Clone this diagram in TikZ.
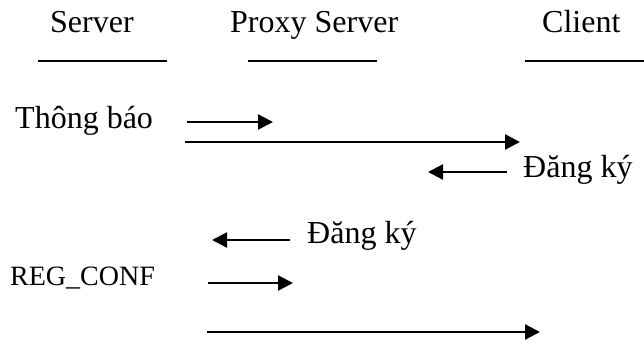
\documentclass[tikz,border=0pt]{standalone}
\usepackage{fontspec}
\setmainfont{Liberation Serif}
\usetikzlibrary{arrows.meta}
\begin{document}
\begin{tikzpicture}[x=1pt,y=-1pt,
  lbl/.style={inner sep=0pt,anchor=base west,font=\fontsize{32}{36}\selectfont},
  smlbl/.style={inner sep=0pt,anchor=base west,font=\fontsize{28}{32}\selectfont},
  uline/.style={line width=2pt},
  msg/.style={line width=2.3pt,-{Triangle[length=15pt,width=15pt]}}]
\useasboundingbox (0,0) rectangle (644,343);
% headers
\node[lbl] (hs) at (50,32) {Server};
\node[lbl] (hp) at (230,32) {Proxy Server};
\node[lbl] (hc) at (542,32) {Client};
\coordinate (s1) at (38,61); \coordinate (s2) at (167,61);
\coordinate (p1) at (248,61); \coordinate (p2) at (377,61);
\coordinate (c1) at (525,61); \coordinate (c2) at (644,61);
\draw[uline] (s1) -- (s2);
\draw[uline] (p1) -- (p2);
\draw[uline] (c1) -- (c2);
% labels
\node[lbl] (tb) at (15,128) {Thông báo};
\node[lbl] (dk1) at (523,177) {Đăng ký};
\node[lbl] (dk2) at (307,243) {Đăng ký};
\node[smlbl] (rc) at (10,285) {REG\_CONF};
% arrows
\coordinate (a1s) at (187,122); \coordinate (a1e) at (273,122);
\coordinate (a2s) at (185,142); \coordinate (a2e) at (520,142);
\coordinate (a3s) at (507,172); \coordinate (a3e) at (428,172);
\coordinate (a4s) at (290,240); \coordinate (a4e) at (212,240);
\coordinate (a5s) at (208,283); \coordinate (a5e) at (293,283);
\coordinate (a6s) at (207,332); \coordinate (a6e) at (540,332);
\draw[msg] (a1s) -- (a1e);
\draw[msg] (a2s) -- (a2e);
\draw[msg] (a3s) -- (a3e);
\draw[msg] (a4s) -- (a4e);
\draw[msg] (a5s) -- (a5e);
\draw[msg] (a6s) -- (a6e);
\end{tikzpicture}
\end{document}
